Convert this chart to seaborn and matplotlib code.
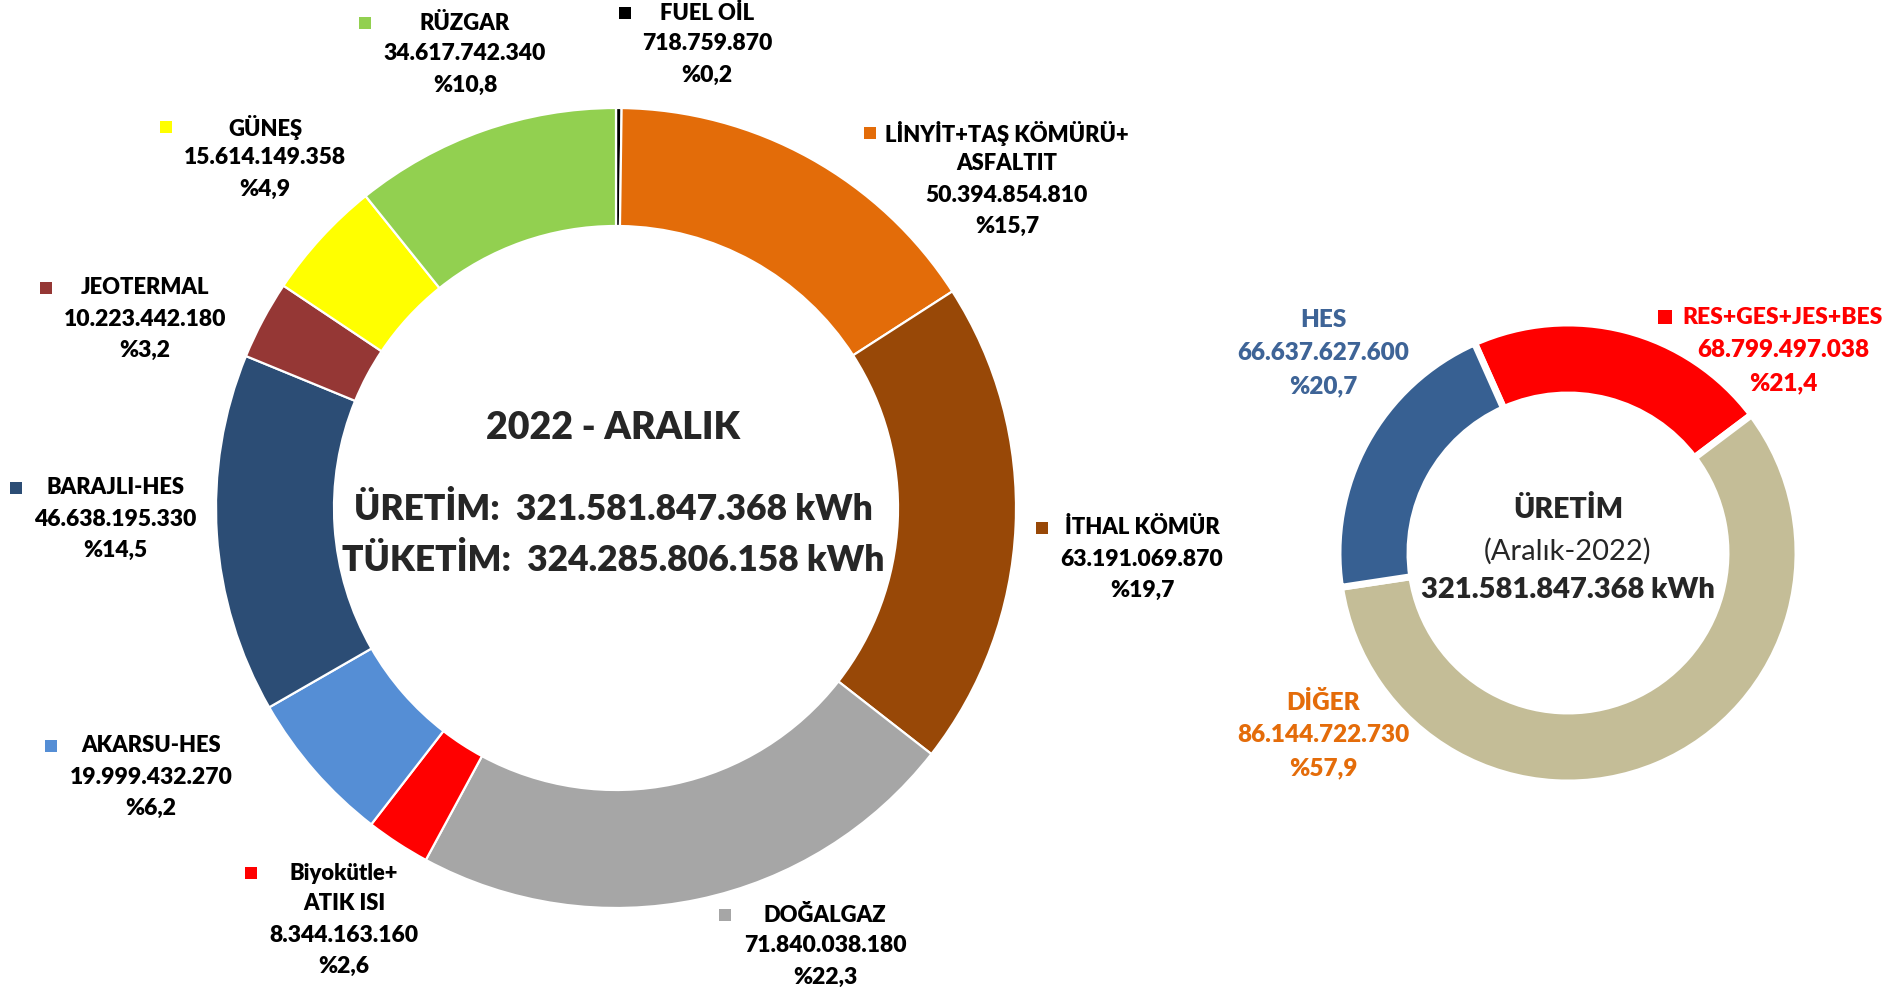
import matplotlib
matplotlib.use("Agg")
import matplotlib.pyplot as plt
import seaborn as sns

# ---- data ----
big_labels = ["FUEL OİL", "LİNYİT+TAŞ KÖMÜRÜ+\nASFALTIT", "İTHAL KÖMÜR", "DOĞALGAZ",
              "Biyokütle+\nATIK ISI", "AKARSU-HES", "BARAJLI-HES", "JEOTERMAL", "GÜNEŞ", "RÜZGAR"]
big_values = [718759870, 50394854810, 63191069870, 71840038180, 8344163160,
              19999432270, 46638195330, 10223442180, 15614149358, 34617742340]
big_pcts = [0.2, 15.7, 19.7, 22.3, 2.6, 6.2, 14.5, 3.2, 4.9, 10.8]
big_colors = ["#000000", "#E36C09", "#984807", "#A6A6A6", "#FF0000",
              "#558ED5", "#2C4D75", "#953735", "#FFFF00", "#92D050"]

small_labels = ["RES+GES+JES+BES", "DİĞER", "HES"]
small_values = [68799497038, 186144722730, 66637627600]
small_value_text = ["68.799.497.038", "86.144.722.730", "66.637.627.600"]
small_pcts = [21.4, 57.9, 20.7]
small_colors = ["#FF0000", "#C4BD97", "#376092"]
small_text_colors = ["#FF0000", "#E46C0A", "#3E6497"]

title = "2022 - ARALIK"
uretim = "ÜRETİM:  321.581.847.368 kWh"
tuketim = "TÜKETİM:  324.285.806.158 kWh"

W, H = 1895, 990

def fmt_num(v):
    return f"{v:,}".replace(",", ".")

def fmt_pct(p):
    return "%" + f"{p:.1f}".replace(".", ",")

sns.set_theme(style="white")
plt.rcParams['font.family'] = ['Lato', 'DejaVu Sans']
BOLD = 'heavy'

fig = plt.figure(figsize=(W / 100, H / 100), dpi=100)
ax = fig.add_axes([0, 0, 1, 1])

# big donut
explode = [0.012 if l == "İTHAL KÖMÜR" else 0 for l in big_labels]
ax.pie(big_values, colors=big_colors, startangle=90, counterclock=False,
       center=(616, H - 508), radius=400, explode=explode,
       wedgeprops=dict(width=118, edgecolor="white", linewidth=1.6))

# small donut
ax.pie(small_values, colors=small_colors, startangle=114, counterclock=False,
       center=(1568, H - 553), radius=230,
       wedgeprops=dict(width=72, edgecolor="white", linewidth=5))

ax.set_xlim(0, W)
ax.set_ylim(0, H)
ax.axis('off')

# big labels layout: text center x, first line y, marker x (pixels from top-left)
big_pos = [(707, 13, 625), (1007, 133, 870), (1142, 528, 1042), (825, 915, 725),
           (344, 873, 251), (151, 746, 51), (115, 488, 16), (145, 288, 46),
           (265, 127, 166), (465, 23, 365)]
step = 31
for lab, val, pct, col, (tx, ty, mx) in zip(big_labels, big_values, big_pcts, big_colors, big_pos):
    names = lab.split("\n")
    lines = names + [fmt_num(val), fmt_pct(pct)]
    for i, s in enumerate(lines):
        fs = 15.8 if i < len(names) else 16.5
        ax.text(tx, H - (ty + i * step), s, ha='center', va='center',
                fontsize=fs, fontweight=BOLD, color='black')
    ax.scatter([mx], [H - ty], marker='s', s=80, color=col, linewidths=0)

# small labels layout
small_pos = [(1783, 317, 1665), (1323, 702, None), (1323, 320, None)]
sstep = 33
for lab, vt, pct, tc, col, (tx, ty, mx) in zip(small_labels, small_value_text, small_pcts,
                                             small_text_colors, small_colors, small_pos):
    for i, s in enumerate([lab, vt, fmt_pct(pct)]):
        fs = 16.5 if (i == 0 and mx is not None) else 17.5
        ax.text(tx, H - (ty + i * sstep), s, ha='center', va='center',
                fontsize=fs, fontweight=BOLD, color=tc)
    if mx is not None:
        ax.scatter([mx], [H - ty], marker='s', s=90, color=col, linewidths=0)

# center texts
ax.text(613, H - 428, title, ha='center', va='center', fontsize=27, fontweight=BOLD)
ax.text(613, H - 509, uretim, ha='center', va='center', fontsize=25.5, fontweight=BOLD)
ax.text(613, H - 560, tuketim, ha='center', va='center', fontsize=25.5, fontweight=BOLD)

ax.text(1568, H - 510, "ÜRETİM", ha='center', va='center', fontsize=20.5, fontweight=BOLD)
ax.text(1568, H - 551, "(Aralık-2022)", ha='center', va='center', fontsize=21)
ax.text(1568, H - 590, "321.581.847.368 kWh", ha='center', va='center', fontsize=21, fontweight=BOLD)

fig.savefig("out.png", dpi=100, facecolor="white")
